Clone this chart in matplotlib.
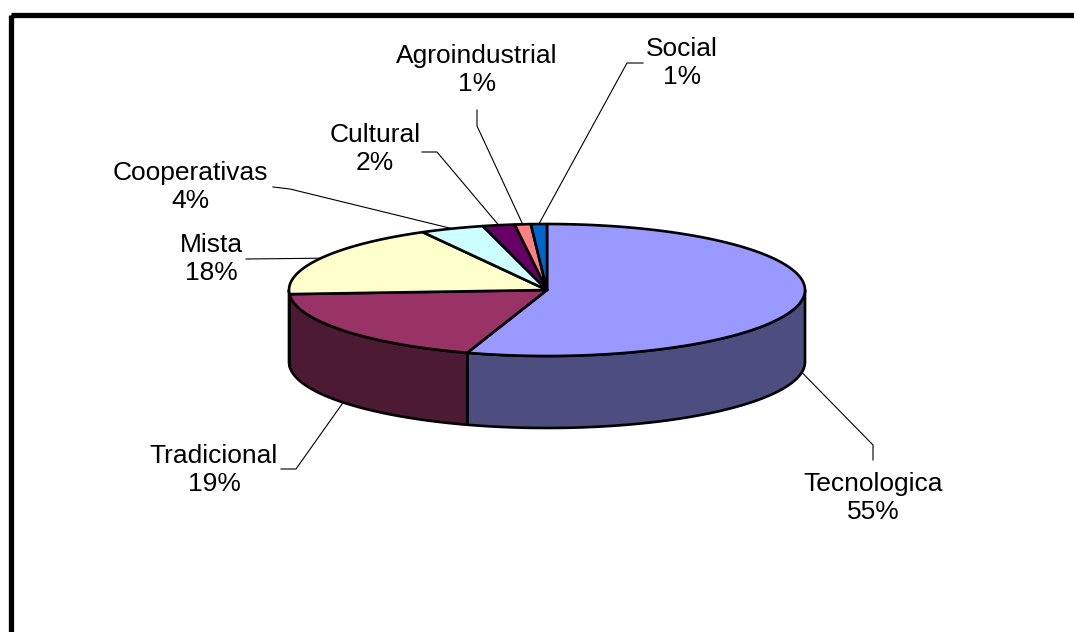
import numpy as np
import matplotlib.pyplot as plt
from matplotlib.patches import Polygon, Rectangle
from matplotlib.colors import to_rgb

categories = ['Tecnologica', 'Tradicional', 'Mista', 'Cooperativas', 'Cultural', 'Agroindustrial', 'Social']
percent = [55, 19, 18, 4, 2, 1, 1]
top_colors = ['#9999FF', '#993366', '#FFFFCC', '#CCFFFF', '#660066', '#FF8080', '#0066CC']

# pie layout in pixels (y grows downward)
cx, cy = 547, 290
rx, ry = 258, 66
depth = 72

# label centres and the elbow points of each leader line
label_pos = [(873, 498), (214, 470), (211, 259), (190, 187), (375, 149), (477, 70), (682, 63)]
leader_start = [[(873, 460), (873, 445)],
                [(281, 469), (296, 469)],
                [(246, 259)],
                [(273, 187), (290, 189)],
                [(422, 152), (437, 152)],
                [(477, 110), (477, 126)],
                [(643, 63), (627, 63)]]


def edge(theta, drop=0.0):
    # angle measured clockwise from 12 o'clock
    t = np.radians(theta)
    return cx + rx * np.sin(t), cy - ry * np.cos(t) + drop


def darker(c, f=0.5):
    r, g, b = to_rgb(c)
    return (r * f, g * f, b * f)


fig = plt.figure(figsize=(10.74, 6.32), dpi=100)
ax = fig.add_axes([0, 0, 1, 1])
ax.set_xlim(0, 1074)
ax.set_ylim(632, 0)
ax.axis('off')

fracs = np.array(percent) / sum(percent)
bounds = np.concatenate([[0], np.cumsum(fracs) * 360])

# side walls (only the front half is visible)
for i in range(len(percent)):
    lo = max(bounds[i], 90)
    hi = min(bounds[i + 1], 270)
    if hi <= lo:
        continue
    th = np.linspace(lo, hi, 120)
    upper = [edge(t) for t in th]
    lower = [edge(t, depth) for t in th[::-1]]
    ax.add_patch(Polygon(upper + lower, closed=True, fc=darker(top_colors[i]),
                         ec='black', lw=1.9, joinstyle='round', zorder=1))

# top face
for i in range(len(percent)):
    th = np.linspace(bounds[i], bounds[i + 1], 200)
    pts = [(cx, cy)] + [edge(t) for t in th]
    ax.add_patch(Polygon(pts, closed=True, fc=top_colors[i], ec='black',
                         lw=1.9, joinstyle='round', zorder=2))

# labels with leader lines
for i, name in enumerate(categories):
    mid = (bounds[i] + bounds[i + 1]) / 2
    if 90 < mid < 270:
        anchor = edge(mid, depth)
    else:
        anchor = edge(mid)
    pts = leader_start[i] + [anchor]
    xs = [p[0] for p in pts]
    ys = [p[1] for p in pts]
    ax.plot(xs, ys, color='black', lw=0.8, zorder=3)
    ax.text(label_pos[i][0], label_pos[i][1], f'{name}\n{percent[i]}%',
            ha='center', va='center', fontsize=19, linespacing=1.25,
            family='Liberation Sans', color='black', zorder=4)

# chart area border
ax.add_patch(Rectangle((10.5, 14.5), 1200, 1000, fill=False, ec='black', lw=3.8))

fig.savefig('out.png', dpi=100)
